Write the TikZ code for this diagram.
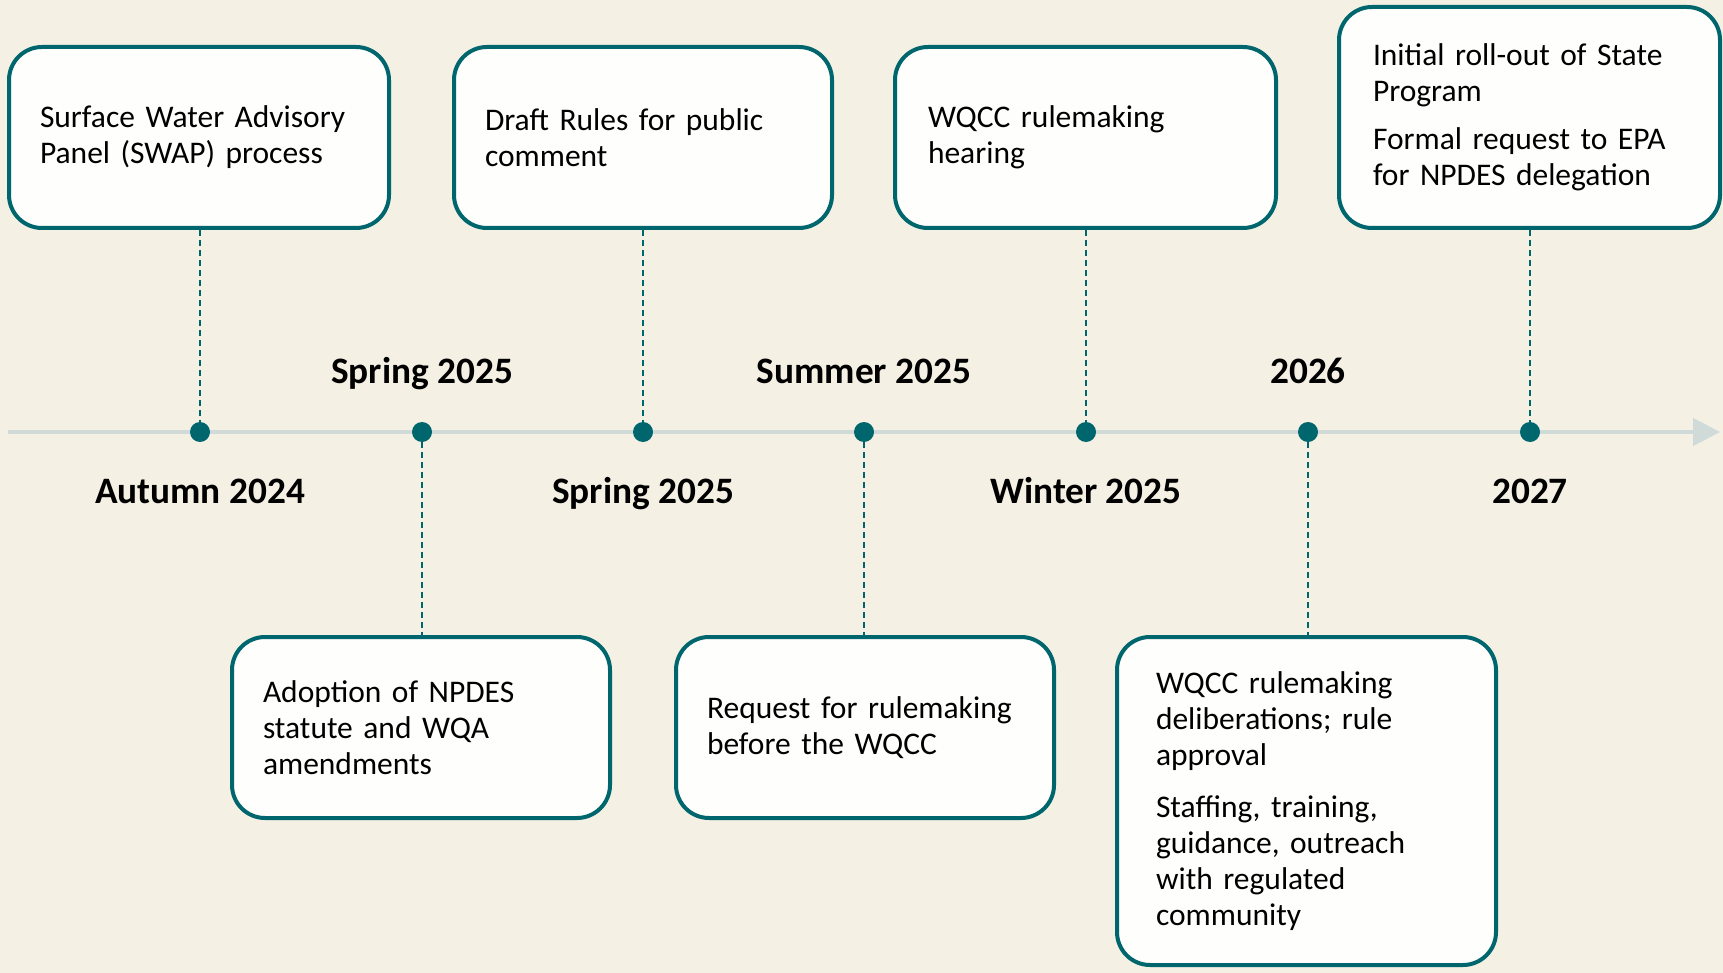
\documentclass[tikz,border=0pt]{standalone}
\usepackage{fontspec}
\setmainfont{Carlito}
\usetikzlibrary{arrows.meta}
\definecolor{bgc}{HTML}{F4F0E3}
\definecolor{tealc}{HTML}{00666E}
\definecolor{axisc}{HTML}{D0DAD9}
\definecolor{boxfill}{HTML}{FEFEFC}
\begin{document}
\begin{tikzpicture}[x=1pt,y=-1pt,
  evbox/.style={draw=tealc, line width=4pt, fill=boxfill, rounded corners=33pt, align=left,
    inner ysep=0pt, font=\fontsize{31.5}{36}\selectfont, text=black},
  dotn/.style={circle, fill=tealc, minimum size=20pt, inner sep=0pt},
  lead/.style={draw=tealc, line width=2pt, dash pattern=on 6pt off 4pt},
  datelbl/.style={font=\fontsize{37.3}{40}\selectfont\bfseries, inner sep=0pt, anchor=base}]

\fill[bgc] (0,0) rectangle (1723,973);
\useasboundingbox (0,0) rectangle (1723,973);

% axis
\coordinate (ax0) at (8,432);
\coordinate (ax1) at (1720,432);
\draw[axisc, line width=4.5pt, -{Triangle[length=27pt,width=27pt]}] (ax0) -- (ax1);

% dots
\node[dotn] (d1) at (200,432) {};
\node[dotn] (d2) at (422,432) {};
\node[dotn] (d3) at (643,432) {};
\node[dotn] (d4) at (864,432) {};
\node[dotn] (d5) at (1086,432) {};
\node[dotn] (d6) at (1308,432) {};
\node[dotn] (d7) at (1530,432) {};

% date labels
\node[datelbl] (l1) at (200,503) {Autumn 2024};
\node[datelbl] (l2) at (422,383.5) {Spring 2025};
\node[datelbl] (l3) at (643,503) {Spring 2025};
\node[datelbl] (l4) at (864,383.5) {Summer 2025};
\node[datelbl] (l5) at (1086,503) {Winter 2025};
\node[datelbl] (l6) at (1308,383.5) {2026};
\node[datelbl] (l7) at (1530,503) {2027};

% boxes
\node[evbox, text width=318pt, inner xsep=31pt, minimum height=181pt] (b1) at (199,137.5)
  {Surface Water Advisory\\Panel (SWAP) process};
\node[evbox, text width=316pt, inner xsep=31pt, minimum height=181pt] (b2) at (421,727.5)
  {Adoption of NPDES\\statute and WQA\\amendments};
\node[evbox, text width=316pt, inner xsep=31pt, minimum height=181pt] (b3) at (643,137.5)
  {Draft Rules for public\\comment};
\node[evbox, text width=316pt, inner xsep=31pt, minimum height=181pt] (b4) at (865,727.5)
  {Request for rulemaking\\before the WQCC};
\node[evbox, text width=315pt, inner xsep=33pt, minimum height=181pt] (b5) at (1085.5,137.5)
  {WQCC rulemaking\\hearing};
\node[evbox, text width=301pt, inner xsep=39pt, minimum height=328pt] (b6) at (1306.5,801)
  {WQCC rulemaking\\deliberations; rule\\approval\\[16pt]Staffing, training,\\guidance, outreach\\with regulated\\community};
\node[evbox, text width=313pt, inner xsep=34pt, minimum height=221pt] (b7) at (1529.5,117.5)
  {Initial roll-out of State\\Program\\[12pt]Formal request to EPA\\for NPDES delegation};

% leads
\draw[lead] (d1 |- b1.south) -- (d1);
\draw[lead] (d2) -- (d2 |- b2.north);
\draw[lead] (d3 |- b3.south) -- (d3);
\draw[lead] (d4) -- (d4 |- b4.north);
\draw[lead] (d5 |- b5.south) -- (d5);
\draw[lead] (d6) -- (d6 |- b6.north);
\draw[lead] (d7 |- b7.south) -- (d7);
\end{tikzpicture}
\end{document}
